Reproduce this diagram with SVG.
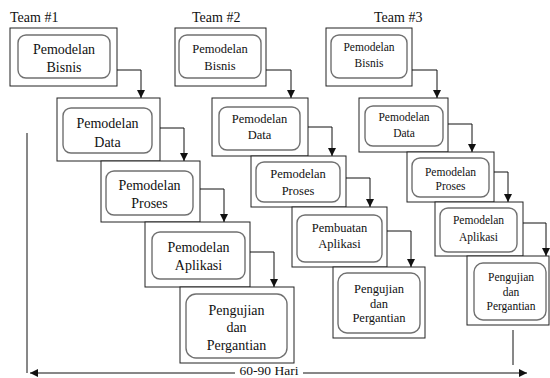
<svg xmlns="http://www.w3.org/2000/svg" width="550" height="378" viewBox="0 0 550 378">
<style>
.o{fill:#fff;stroke:#222;stroke-width:1}
.i{fill:#fff;stroke:#707070;stroke-width:1.4}
.c{fill:none;stroke:#111;stroke-width:1}
text{font-family:"Liberation Serif","Times New Roman",serif;fill:#111;text-anchor:middle}
.t1{font-size:14px}
.t2{font-size:12.5px}
.t3{font-size:11.5px}
.lbl{font-size:14px;text-anchor:start}
</style>
<defs>
<marker id="ah" viewBox="0 0 8 8" refX="8" refY="4" markerWidth="8" markerHeight="8" markerUnits="userSpaceOnUse" orient="auto-start-reverse">
<path d="M0,0 L8,4 L0,8 z" fill="#111"/>
</marker>
</defs>
<rect width="550" height="378" fill="#fff"/>
<text class="lbl" x="10" y="22">Team #1</text>
<text class="lbl" x="192" y="22">Team #2</text>
<text class="lbl" x="374" y="22">Team #3</text>

<g id="t1b1"><rect class="o" x="10" y="28" width="107" height="58"/><rect class="i" x="18" y="35" width="92" height="43" rx="8"/><text class="t1" x="64" y="54">Pemodelan</text><text class="t1" x="64" y="72">Bisnis</text></g>
<g id="t1b2"><rect class="o" x="57" y="98" width="103" height="63"/><rect class="i" x="63" y="108" width="89" height="45" rx="8"/><text class="t1" x="107.5" y="128">Pemodelan</text><text class="t1" x="107.5" y="147">Data</text></g>
<g id="t1b3"><rect class="o" x="101" y="161" width="99" height="61"/><rect class="i" x="106" y="171" width="87" height="44" rx="8"/><text class="t1" x="149.5" y="190">Pemodelan</text><text class="t1" x="149.5" y="208">Proses</text></g>
<g id="t1b4"><rect class="o" x="145" y="222" width="105" height="65"/><rect class="i" x="152" y="232" width="93" height="47" rx="8"/><text class="t1" x="198.5" y="252">Pemodelan</text><text class="t1" x="198.5" y="270">Aplikasi</text></g>
<g id="t1b5"><rect class="o" x="180" y="287" width="114" height="76"/><rect class="i" x="186" y="294" width="101" height="64" rx="10"/><text class="t1" x="236.5" y="315">Pengujian</text><text class="t1" x="236.5" y="332">dan</text><text class="t1" x="236.5" y="350">Pergantian</text></g>

<g id="t2b1"><rect class="o" x="175" y="28" width="91" height="58"/><rect class="i" x="179" y="35" width="82" height="43" rx="8"/><text class="t2" x="220" y="53">Pemodelan</text><text class="t2" x="220" y="70">Bisnis</text></g>
<g id="t2b2"><rect class="o" x="212" y="98" width="96" height="58"/><rect class="i" x="219" y="107" width="81" height="43" rx="8"/><text class="t2" x="259.5" y="123">Pemodelan</text><text class="t2" x="259.5" y="139">Data</text></g>
<g id="t2b3"><rect class="o" x="251" y="156" width="95" height="51"/><rect class="i" x="256" y="162" width="84" height="40" rx="8"/><text class="t2" x="298" y="178">Pemodelan</text><text class="t2" x="298" y="195">Proses</text></g>
<g id="t2b4"><rect class="o" x="292" y="207" width="95" height="60"/><rect class="i" x="297" y="215" width="85" height="47" rx="8"/><text class="t2" x="339.5" y="232">Pembuatan</text><text class="t2" x="339.5" y="248">Aplikasi</text></g>
<g id="t2b5"><rect class="o" x="333" y="267" width="92" height="71"/><rect class="i" x="338" y="273" width="82" height="60" rx="9"/><text class="t2" x="379" y="293">Pengujian</text><text class="t2" x="379" y="308">dan</text><text class="t2" x="379" y="322">Pergantian</text></g>

<g id="t3b1"><rect class="o" x="326" y="28" width="86" height="58"/><rect class="i" x="331" y="35" width="76" height="43" rx="8"/><text class="t3" x="369" y="51">Pemodelan</text><text class="t3" x="369" y="67">Bisnis</text></g>
<g id="t3b2"><rect class="o" x="359" y="98" width="89" height="54"/><rect class="i" x="365" y="106" width="78" height="40" rx="8"/><text class="t3" x="404" y="121">Pemodelan</text><text class="t3" x="404" y="137">Data</text></g>
<g id="t3b3"><rect class="o" x="407" y="152" width="87" height="50"/><rect class="i" x="412" y="158" width="77" height="39" rx="8"/><text class="t3" x="450.5" y="176">Pemodelan</text><text class="t3" x="450.5" y="190">Proses</text></g>
<g id="t3b4"><rect class="o" x="435" y="202" width="88" height="54"/><rect class="i" x="440" y="208" width="77" height="44" rx="8"/><text class="t3" x="478.5" y="224">Pemodelan</text><text class="t3" x="478.5" y="241">Aplikasi</text></g>
<g id="t3b5"><rect class="o" x="467" y="256" width="82" height="69"/><rect class="i" x="474" y="263" width="72" height="57" rx="9"/><text class="t3" x="511" y="281">Pengujian</text><text class="t3" x="511" y="296">dan</text><text class="t3" x="511" y="310">Pergantian</text></g>

<g id="connectors">
<path class="c" d="M117,70 H141 V98" marker-end="url(#ah)"/>
<path class="c" d="M160,128 H184 V161" marker-end="url(#ah)"/>
<path class="c" d="M200,189 H224 V222" marker-end="url(#ah)"/>
<path class="c" d="M250,252 H274 V287" marker-end="url(#ah)"/>
<path class="c" d="M266,70 H291 V98" marker-end="url(#ah)"/>
<path class="c" d="M308,127 H332 V156" marker-end="url(#ah)"/>
<path class="c" d="M346,178 H370 V207" marker-end="url(#ah)"/>
<path class="c" d="M387,231 H411 V267" marker-end="url(#ah)"/>
<path class="c" d="M412,70 H437 V98" marker-end="url(#ah)"/>
<path class="c" d="M448,124 H472 V152" marker-end="url(#ah)"/>
<path class="c" d="M494,172 H508 V202" marker-end="url(#ah)"/>
<path class="c" d="M523,223 H546 V256" marker-end="url(#ah)"/>
<path class="c" d="M27,133 V373"/>
<path class="c" d="M513,330 V365"/>
<path class="c" d="M235,373 H30" marker-end="url(#ah)"/>
<path class="c" d="M303,373 H527" marker-end="url(#ah)"/>
</g>
<text x="269" y="375" style="font-size:13.5px">60-90 Hari</text>
</svg>
